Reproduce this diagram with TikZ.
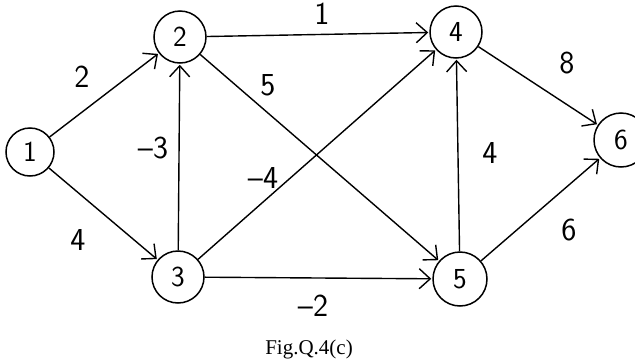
\documentclass[tikz,border=0pt]{standalone}
\usepackage{fontspec}
\newfontfamily\capfont{Liberation Serif}
\usetikzlibrary{arrows.meta}
\begin{document}
\begin{tikzpicture}[x=1pt,y=-1pt,
  vert/.style={draw, line width=1.5pt, circle, inner sep=0pt, minimum size=52pt, font=\sffamily\fontsize{29}{29}\selectfont},
  edge/.style={draw, line width=1.4pt, -{Straight Barb[length=11pt,width=20pt,line width=1.4pt]}, shorten >=1pt},
  wlab/.style={font=\sffamily\fontsize{32}{32}\selectfont, inner sep=0pt}]
\useasboundingbox (0,0) rectangle (635,362);
\clip (0,0) rectangle (635,362);
\node[vert, minimum size=48pt] (n1) at (30,152) {1};
\node[vert] (n2) at (180,37) {2};
\node[vert] (n3) at (178,277) {3};
\node[vert] (n4) at (456,32) {4};
\node[vert, minimum size=54pt] (n5) at (460,279) {5};
\node[vert, minimum size=54pt] (n6) at (621,140) {6};
\draw[edge] (n1) -- (n2);
\draw[edge] (n1) -- (n3);
\draw[edge] (n3) -- (n2);
\draw[edge] (n2) -- (n4);
\draw[edge] (n2) -- (n5);
\draw[edge] (n3) -- (n4);
\draw[edge] (n3) -- (n5);
\draw[edge] (n5) -- (n4);
\draw[edge] (n4) -- (n6);
\draw[edge] (n5) -- (n6);
\node[wlab] (l12) at (82,77) {2};
\node[wlab] (l13) at (78,240) {4};
\node[wlab] (l32) at (153,148) {\textendash3};
\node[wlab] (l24) at (322,14) {1};
\node[wlab] (l25) at (268,85) {5};
\node[wlab] (l34) at (263,178) {\textendash4};
\node[wlab] (l35) at (313,306) {\textendash2};
\node[wlab] (l54) at (490,153) {4};
\node[wlab] (l46) at (567,63) {8};
\node[wlab] (l56) at (569,230) {6};
\node[font=\capfont\fontsize{21}{21}\selectfont, inner sep=0pt] (cap) at (309,349) {Fig.Q.4(c)};
\end{tikzpicture}
\end{document}
